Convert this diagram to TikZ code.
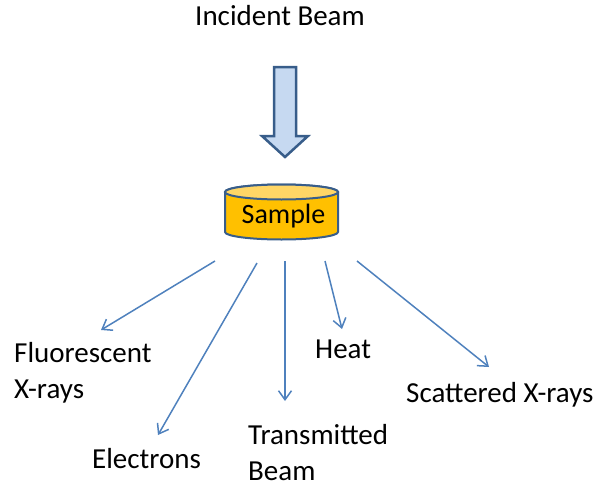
\documentclass[tikz,border=0pt]{standalone}
\usepackage{fontspec}
\setmainfont{Carlito}
\usetikzlibrary{arrows.meta}
\definecolor{edgeblue}{RGB}{56,93,138}
\definecolor{rayblue}{RGB}{79,129,189}
\definecolor{beamfill}{RGB}{198,217,241}
\definecolor{sampleorange}{RGB}{255,192,0}
\definecolor{sampletop}{RGB}{255,214,102}
\begin{document}
\begin{tikzpicture}[x=1pt,y=-1pt,
  label/.style={inner sep=0pt,font=\fontsize{29}{36}\selectfont,align=left},
  ray/.style={draw=rayblue,line width=1.5pt,-{Straight Barb[length=9pt,width=13pt]}}]
\useasboundingbox (0,0) rectangle (601,487);

% incoming beam and its label
\node[label,anchor=base west] (incident) at (195,26) {Incident Beam};
\draw[edgeblue,line width=2.5pt,fill=beamfill,line join=miter]
  (274,67) -- (296,67) -- (296,136) -- (308,136) -- (285,157) -- (262,136) -- (274,136) -- cycle;

% the sample, drawn as a short cylinder
\draw[edgeblue,line width=2pt,fill=sampleorange]
  (225,192) -- (225,232) arc[start angle=180,end angle=0,x radius=56.5,y radius=7.5]
  -- (338,192) arc[start angle=0,end angle=-180,x radius=56.5,y radius=7.5] -- cycle;
\draw[edgeblue,line width=2pt,fill=sampletop] (281.5,192) ellipse[x radius=56.5,y radius=7.5];
\node[label,font=\fontsize{28}{34}\selectfont,anchor=base] (sample) at (283.5,223) {Sample};

% products leaving the sample (base anchor sits on the last line)
\node[label,anchor=base west] (fluor) at (14,398) {Fluorescent\\X-rays};
\node[label,anchor=base west] (electrons) at (92,468) {Electrons};
\node[label,anchor=base west] (transmitted) at (248,480) {Transmitted\\Beam};
\node[label,anchor=base west] (heat) at (315,358) {Heat};
\node[label,anchor=base west] (scattered) at (406,402) {Scattered X-rays};

\coordinate (s1) at (215,261);
\coordinate (s2) at (257,263);
\coordinate (s3) at (285,261);
\coordinate (s4) at (325,261);
\coordinate (s5) at (357,261);
\coordinate (e1) at (101,330);
\coordinate (e2) at (158,435);
\coordinate (e3) at (285,401);
\coordinate (e4) at (342,329);
\coordinate (e5) at (489,367);

\draw[ray] (s1) -- (e1);
\draw[ray] (s2) -- (e2);
\draw[ray] (s3) -- (e3);
\draw[ray] (s4) -- (e4);
\draw[ray] (s5) -- (e5);
\end{tikzpicture}
\end{document}
